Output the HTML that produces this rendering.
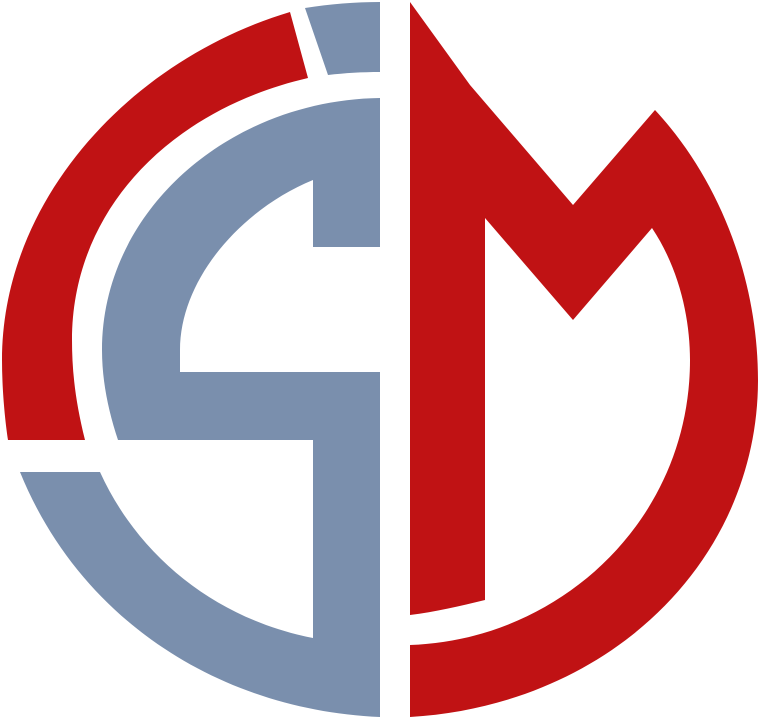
<!DOCTYPE html>
<html>
<head>
<meta charset="utf-8">
<style>
html,body{margin:0;padding:0;background:#fff;width:759px;height:717px;overflow:hidden;}
svg{display:block;}
</style>
</head>
<body>
<svg width="759" height="717" viewBox="0 0 759 717">
  <path fill="#C01214"
    d="M290,12 C130,60 2,200 2,360 C2,390 5,420 8,440 L85,440 C75,400 72,370 72,340 C72,210 170,110 308,78 Z"/>
  <path fill="#7A8FAD"
    d="M305,8 C330,4 355,2 380,2 L380,72 C362,72 345,73 328,75 Z"/>
  <path fill="#7A8FAD"
    d="M380,98 L380,247 L313,247 L313,180 C240,210 180,280 180,350 L180,372 L380,372 L380,717 C220,710 80,620 20,472 L100,472 C140,560 220,620 313,638 L313,440 L118,440 C108,410 102,380 102,350 C102,210 230,100 380,98 Z"/>
  <path fill="#C01214"
    d="M410,2 L470,85 L573,205 L655,110 C720,180 758,280 758,380 C758,560 610,705 410,717 L410,645 C560,640 690,520 690,360 C690,320 680,270 652,228 L573,320 L485,218 L485,600 C460,606 435,612 410,615 Z"/>
</svg>
</body>
</html>
